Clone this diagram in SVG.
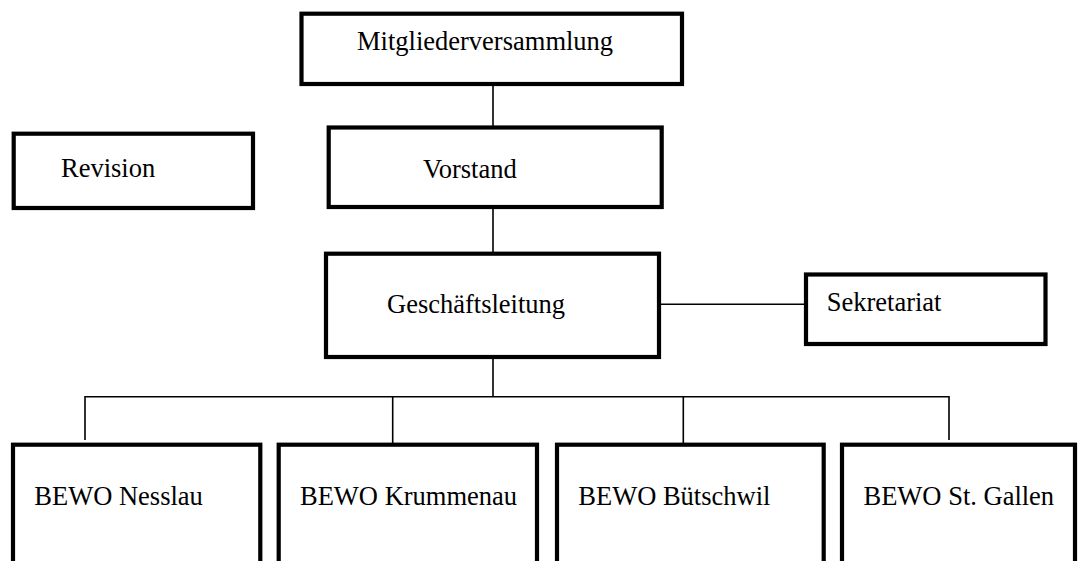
<svg xmlns="http://www.w3.org/2000/svg" width="1083" height="561" viewBox="0 0 1083 561">
<style>
.box{fill:#fff;stroke:#000;stroke-width:4.2}
.lbl{font-family:"Liberation Serif","Times New Roman",serif;font-size:26.5px;fill:#000}
.con{stroke:#000;stroke-width:1.6;fill:none}
</style>
<rect width="1083" height="561" fill="#fff"/>
<g id="connectors">
<line class="con" x1="493" y1="84" x2="493" y2="127.5"/>
<line class="con" x1="493" y1="207" x2="493" y2="253.7"/>
<line class="con" x1="659" y1="304.3" x2="806" y2="304.3"/>
<line class="con" x1="493" y1="357" x2="493" y2="396.7"/>
<polyline class="con" points="85,440 85,396.7 949,396.7 949,440"/>
<line class="con" x1="392.7" y1="396.7" x2="392.7" y2="444.7"/>
<line class="con" x1="683.3" y1="396.7" x2="683.3" y2="444.7"/>
</g>
<g id="mitgliederversammlung">
<rect class="box" x="301.5" y="13.7" width="380.5" height="70.3"/>
<text class="lbl" x="357" y="50">Mitgliederversammlung</text>
</g>
<g id="revision">
<rect class="box" x="13.7" y="133.7" width="239.3" height="74.3"/>
<text class="lbl" x="61" y="177">Revision</text>
</g>
<g id="vorstand">
<rect class="box" x="328.7" y="127.5" width="333" height="79.5"/>
<text class="lbl" x="423" y="178">Vorstand</text>
</g>
<g id="geschaeftsleitung">
<rect class="box" x="326" y="253.7" width="333" height="103.3"/>
<text class="lbl" x="387" y="312.7">Geschäftsleitung</text>
</g>
<g id="sekretariat">
<rect class="box" x="806" y="274.5" width="239.5" height="69.5"/>
<text class="lbl" x="826.7" y="310.5">Sekretariat</text>
</g>
<g id="bewo-nesslau">
<rect class="box" x="13" y="444.7" width="247.3" height="140"/>
<text class="lbl" x="34.3" y="505">BEWO Nesslau</text>
</g>
<g id="bewo-krummenau">
<rect class="box" x="278.7" y="444.7" width="258.3" height="140"/>
<text class="lbl" x="300" y="505">BEWO Krummenau</text>
</g>
<g id="bewo-buetschwil">
<rect class="box" x="557" y="444.7" width="266.7" height="140"/>
<text class="lbl" x="578.3" y="505">BEWO Bütschwil</text>
</g>
<g id="bewo-st-gallen">
<rect class="box" x="842" y="444.7" width="233" height="140"/>
<text class="lbl" x="863.5" y="505">BEWO St. Gallen</text>
</g>
</svg>
